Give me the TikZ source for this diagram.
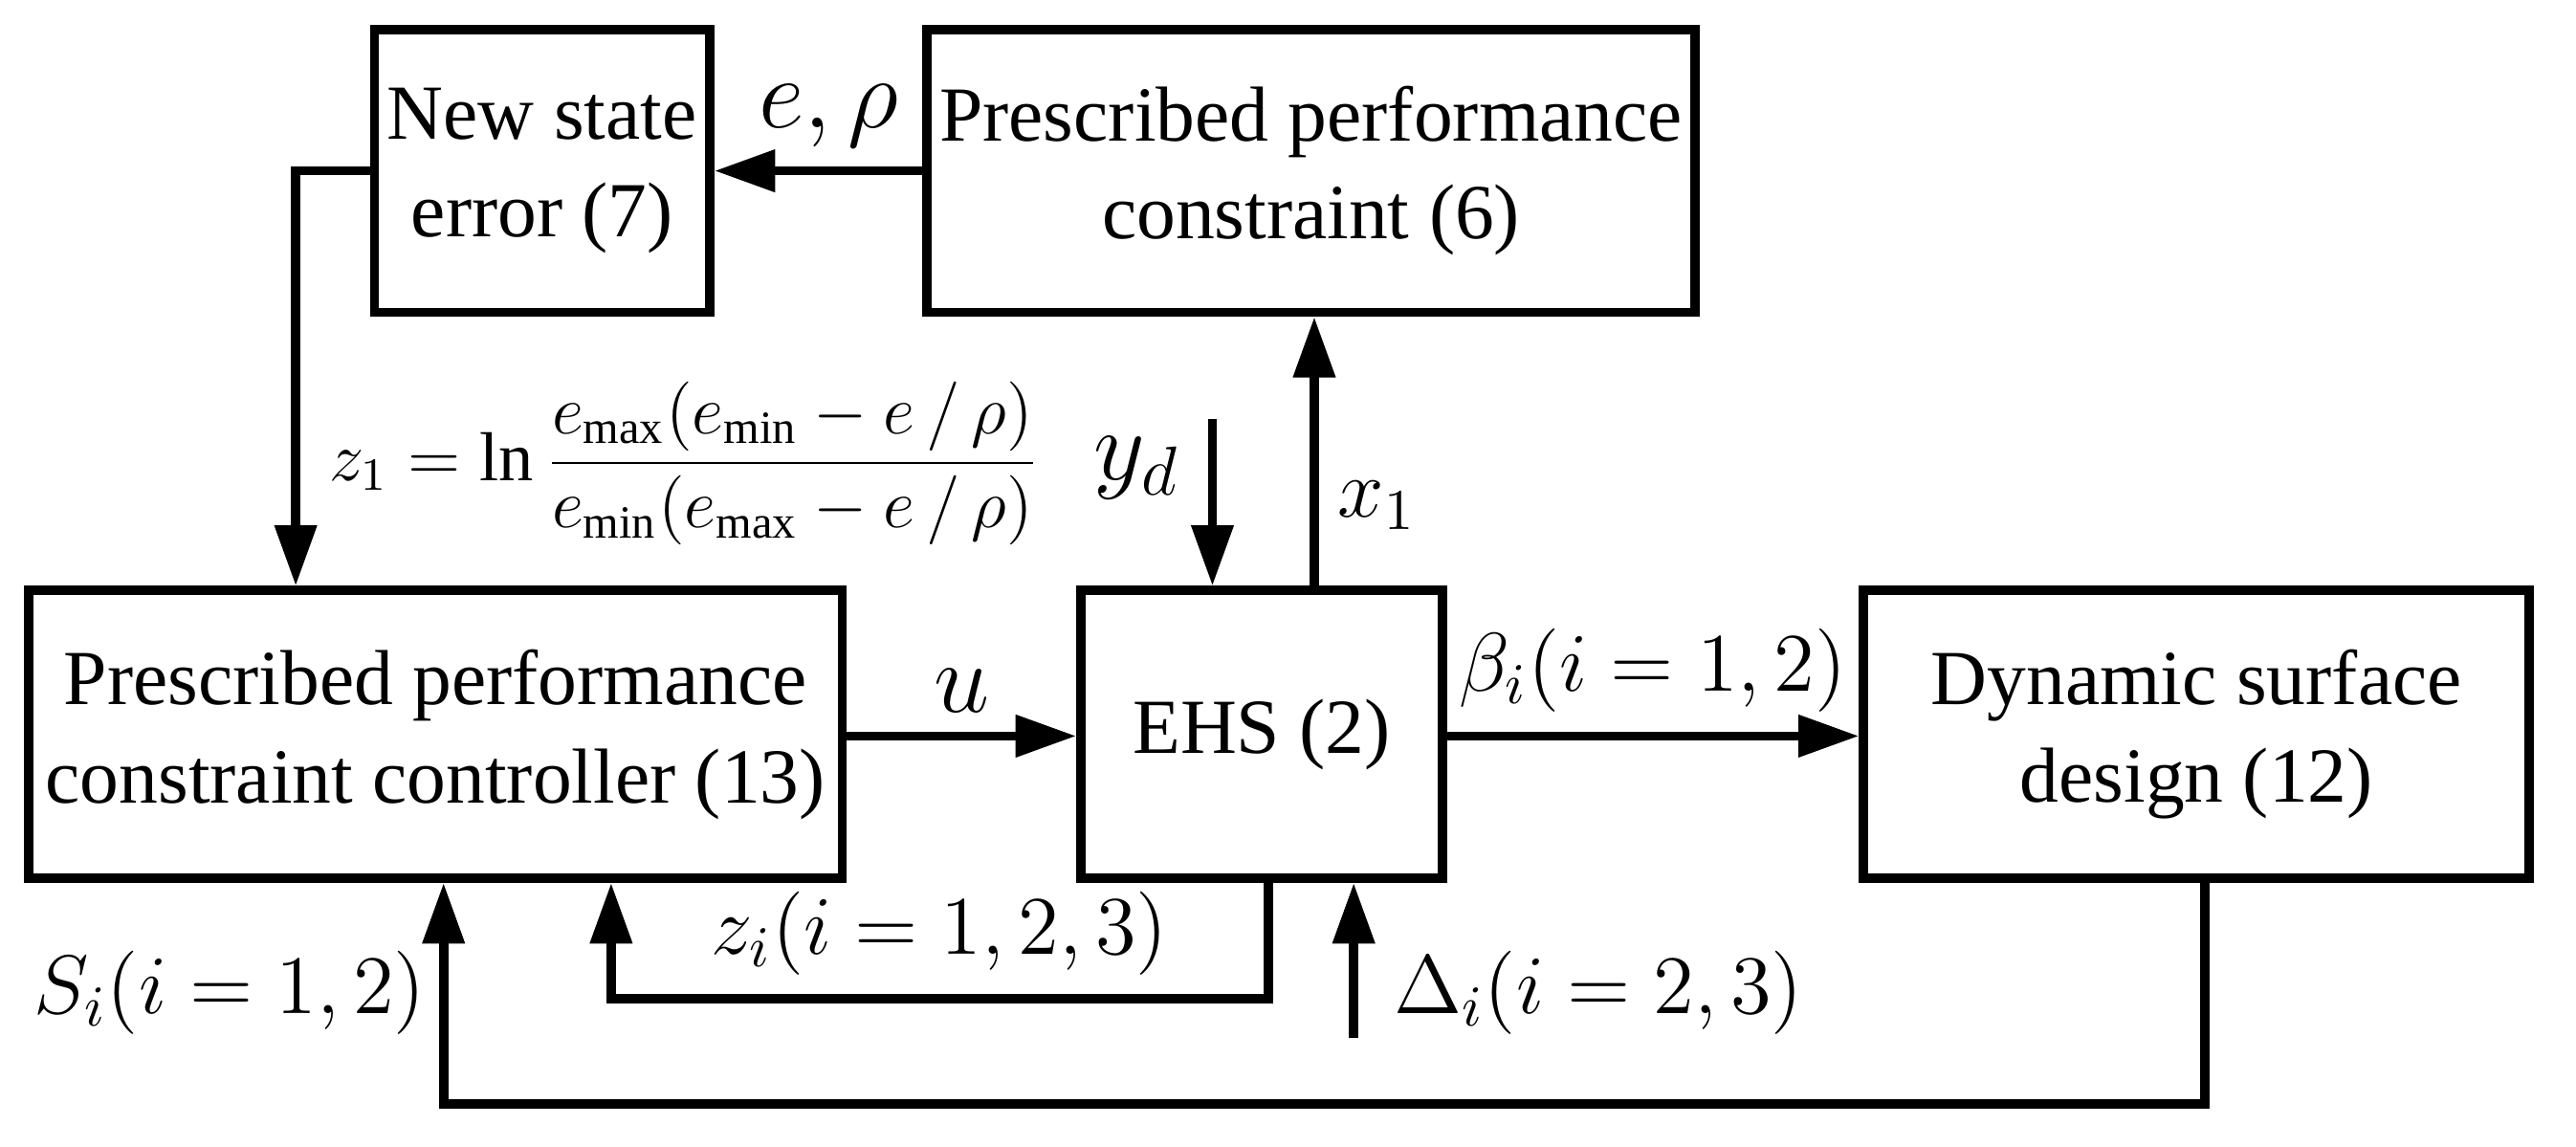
\documentclass[tikz,border=0pt]{standalone}
\usepackage{fontspec}
\setmainfont{Liberation Serif}
\usetikzlibrary{arrows.meta}
\begin{document}
\begin{tikzpicture}[x=0.01cm,y=-0.01cm,
 box/.style={draw,line width=1.6pt,inner sep=0,align=center,font=\fontsize{13.5}{17}\selectfont},
 ar/.style={line width=1.6pt,-{Triangle[length=10.5pt,width=7pt]}},
 lab/.style={font=\fontsize{14}{17}\selectfont}]
\useasboundingbox (0,0) rectangle (1568,698);
\node[box,minimum width=2.04cm,minimum height=1.72cm] (nse) at (330,104) {New state\\error (7)};
\node[box,minimum width=4.67cm,minimum height=1.72cm] (ppc) at (798,104) {Prescribed performance\\constraint (6)};
\node[box,minimum width=4.95cm,minimum height=1.75cm] (ctl) at (265,447) {Prescribed performance\\constraint controller (13)};
\node[box,minimum width=2.2cm,minimum height=1.75cm] (ehs) at (768,447) {EHS (2)};
\node[box,minimum width=4.05cm,minimum height=1.75cm] (dsd) at (1337,447) {Dynamic surface\\design (12)};
\coordinate (c1) at (180,104);
\coordinate (yd) at (738,255);
\coordinate (dl) at (824,632);
\coordinate (z1) at (772,608); \coordinate (z2) at (372,608);
\coordinate (s1) at (1342,672); \coordinate (s2) at (270,672);
\draw[ar] (ppc.west) -- node[lab,above,pos=0.45,font=\fontsize{17}{17}\selectfont]{$e,\rho$} (nse.east);
\draw[ar] (nse.west) -- (c1) -- (c1|-ctl.north);
\draw[ar] (ehs.north-|800,0) -- node[lab,right,pos=0.3]{$x_1$} (ppc.south-|800,0);
\draw[ar] (yd) -- (yd|-ehs.north);
\node[lab,font=\fontsize{17}{17}\selectfont] at (692,285) {$y_d$};
\draw[ar] (ctl.east|-0,448) -- node[lab,above,font=\fontsize{17}{17}\selectfont]{$u$} (ehs.west|-0,448);
\draw[ar] (ehs.east|-0,448) -- node[lab,above]{$\beta_i(i=1,2)$} (dsd.west|-0,448);
\draw[ar] (z1|-ehs.south) -- (z1) -- node[lab,above]{$z_i(i=1,2,3)$} (z2) -- (z2|-ctl.south);
\draw[ar] (dl) -- (dl|-ehs.south);
\node[lab,right] at (836,604) {$\Delta_i(i=2,3)$};
\draw[ar] (s1|-dsd.south) -- (s1) -- (s2) -- (s2|-ctl.south);
\node[lab] at (140,604) {$S_i(i=1,2)$};
\node[right,font=\fontsize{12}{14}\selectfont] at (188,282) {$z_1=\ln\displaystyle\frac{e_{\max}(e_{\min}-e\,/\,\rho)}{e_{\min}(e_{\max}-e\,/\,\rho)}$};
\end{tikzpicture}
\end{document}
